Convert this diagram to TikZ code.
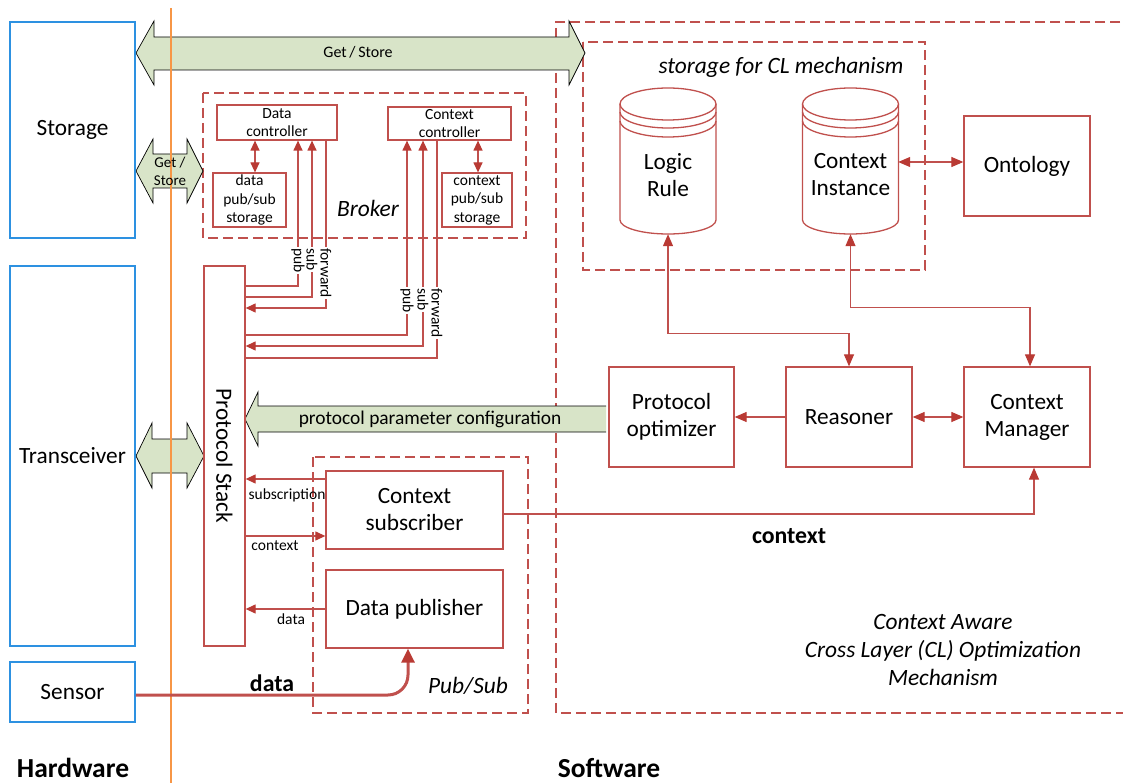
\documentclass[tikz,border=0pt]{standalone}
\usepackage{fontspec}
\setmainfont{Carlito}
\usetikzlibrary{arrows.meta}
\definecolor{boxred}{RGB}{192,80,77}
\definecolor{tipred}{RGB}{185,58,52}
\definecolor{hwblue}{RGB}{45,145,225}
\definecolor{orng}{RGB}{247,150,70}
\definecolor{pale}{RGB}{216,228,200}
\begin{document}
\begin{tikzpicture}[x=1pt,y=-1pt,
  f21/.style={font=\fontsize{23.3}{27}\selectfont},
  f19/.style={font=\fontsize{19.4}{23}\selectfont},
  f16/.style={font=\fontsize{16}{19}\selectfont},
  f15/.style={font=\fontsize{15.5}{18.5}\selectfont},
  rbox/.style={draw=boxred, line width=1.3pt, inner sep=0pt, align=center, f21},
  sbox/.style={draw=boxred, line width=1.2pt, inner sep=0pt, align=center, f15},
  hbox/.style={draw=hwblue, line width=1.5pt, inner sep=0pt, align=center, f21},
  grp/.style={draw=boxred, line width=1.2pt, dash pattern=on 10pt off 5pt},
  link/.style={draw=boxred, line width=1.2pt, >={Triangle[length=12pt,width=10pt,color=tipred]}},
  slink/.style={link, >={Triangle[length=10pt,width=9pt,color=tipred]}},
  fat/.style={fill=pale, draw=black, line width=0.7pt, line join=miter},
  lbl/.style={f15, inner sep=1pt, fill=white, rotate=-90, anchor=west},
  cyl/.style={draw=boxred, line width=1.3pt},
  itl/.style={font=\fontsize{23.4}{28}\selectfont\itshape},
  bld/.style={font=\fontsize{23.8}{28}\selectfont\bfseries}
]
\useasboundingbox (0,0) rectangle (1123,783);

% group boxes
\draw[grp] (1135,22) -- (556,22) -- (556,713) -- (1135,713);
\draw[grp] (583,42) rectangle (925,270);
\draw[grp] (203,93) rectangle (526,238);
\draw[grp] (313,457) rectangle (528,713);

% big green arrows
\draw[fat] (136,53) -- (154,21) -- (154,37) -- (569,37) -- (569,21) -- (585,53)
  -- (569,85) -- (569,70) -- (154,70) -- (154,85) -- cycle;
\draw[fat] (136,171) -- (153,139) -- (153,154) -- (187,154) -- (187,139) -- (203,171)
  -- (187,203) -- (187,188) -- (153,188) -- (153,203) -- cycle;
\draw[fat] (136,456) -- (152,423) -- (152,439) -- (187,439) -- (187,423) -- (204,456)
  -- (187,488) -- (187,473) -- (152,473) -- (152,488) -- cycle;
\fill[pale] (245,419) -- (258,392) -- (258,406) -- (606,406) -- (606,432) -- (258,432) -- (258,446) -- cycle;
\draw[black, line width=0.7pt, line join=miter] (606,406) -- (258,406) -- (258,392) -- (245,419)
  -- (258,446) -- (258,432) -- (606,432);

% orange divider
\draw[orng, line width=1.3pt] (171,8) -- (171,783);

% arrow texts
\node[f16] (gs1) at (358,52) {Get\,/\,Store};
\node[f15, font=\fontsize{15}{18}\selectfont, align=center] (gs2) at (170,171) {Get /\\Store};
\node[f19] (ppc) at (430,419) {protocol parameter configuration};

% hardware
\node[hbox, minimum width=125pt, minimum height=216pt] (storage) at (72.5,130) {Storage};
\node[hbox, minimum width=125pt, minimum height=380pt] (trans) at (72.5,456) {Transceiver};
\node[hbox, minimum width=125pt, minimum height=60pt] (sensor) at (72.5,692) {Sensor};

% protocol stack
\node[rbox, minimum width=41pt, minimum height=380pt] (pstack) at (224.5,456) {};
\node[f21, rotate=-90] (pstext) at (224.5,456) {Protocol Stack};

% broker
\node[sbox, minimum width=120pt, minimum height=35pt] (dctrl) at (277,122.5) {Data\\controller};
\node[sbox, minimum width=73pt, minimum height=54pt] (dstore) at (249.5,200) {data\\pub/sub\\storage};
\node[sbox, minimum width=123pt, minimum height=33pt] (cctrl) at (449.5,123.5) {Context\\controller};
\node[sbox, minimum width=70pt, minimum height=54pt] (cstore) at (477,200) {context\\pub/sub\\storage};
\node[itl] (brk) at (368,208) {Broker};
\draw[slink,<->] (dctrl.south -| 255,0) -- (dstore.north -| 255,0);
\draw[slink,<->] (cctrl.south -| 478,0) -- (cstore.north -| 478,0);

% pub/sub
\node[rbox, minimum width=177pt, minimum height=78pt] (csub) at (414.5,510) {Context\\subscriber};
\node[rbox, minimum width=177pt, minimum height=78pt] (dpub) at (414.5,609) {Data publisher};
\node[itl] (pslbl) at (468,686) {Pub/Sub};

% CL storage
\node[itl] (cltitle) at (781,67) {storage for CL mechanism};
\node[f21, align=center, inner sep=0pt, minimum width=96pt, minimum height=118pt] (lr) at (668,175) {Logic\\Rule};
\node[f21, align=center, inner sep=0pt, minimum width=95pt, minimum height=118pt] (ci) at (850.5,175) {Context\\Instance};
\foreach \cx in {668,850.5}{
  \draw[cyl] (\cx-48,104) -- (\cx-48,220) arc[start angle=180,end angle=360,x radius=48pt,y radius=14pt] -- (\cx+48,104);
  \draw[cyl] (\cx,104) ellipse[x radius=48pt,y radius=16pt];
  \draw[cyl] (\cx-48,112) arc[start angle=180,end angle=360,x radius=48pt,y radius=16pt];
  \draw[cyl] (\cx-48,121) arc[start angle=180,end angle=360,x radius=48pt,y radius=16pt];
}
\node[rbox, minimum width=126pt, minimum height=100pt] (onto) at (1027,166) {Ontology};

% processing
\node[rbox, minimum width=125pt, minimum height=100pt] (popt) at (671.5,417) {Protocol\\optimizer};
\node[rbox, minimum width=126pt, minimum height=100pt] (reas) at (849,417) {Reasoner};
\node[rbox, minimum width=126pt, minimum height=100pt] (cman) at (1027,417) {Context\\Manager};

% software connectors
\draw[link,<->] (ci.east |- 0,162) -- (onto.west |- 0,162);
\draw[link,<->] (lr.south) -- ++(0,99) -| (reas.north);
\draw[link,<->] (ci.south) -- ++(0,73) -| ([xshift=3pt]cman.north);
\draw[link,->] (reas.west) -- (popt.east);
\draw[link,<->] (reas.east) -- (cman.west);
\draw[link,->] (csub.east |- 0,514) -| ([xshift=7pt]cman.south);
\node[bld] (ctxlbl) at (789,536) {context};

% protocol stack <-> pub/sub
\draw[slink,->] (csub.west |- 0,479) -- (pstack.east |- 0,479);
\draw[slink,->] (pstack.east |- 0,536) -- (csub.west |- 0,536);
\draw[slink,->] (dpub.west) -- (pstack.east |- dpub.west);
\node[f15] (sublbl) at (287,495) {subscription};
\node[f15] (ctxs) at (275,546) {context};
\node[f15] (dats) at (291,619) {data};

% broker <-> protocol stack
\draw[slink,<-] (dctrl.south -| 298,0) |- (pstack.east |- 0,286);
\draw[slink,<-] (dctrl.south -| 312,0) |- (pstack.east |- 0,297);
\draw[slink,->] (dctrl.south -| 326,0) |- (pstack.east |- 0,308);
\draw[slink,<-] (cctrl.south -| 407,0) |- (pstack.east |- 0,335);
\draw[slink,<->] (cctrl.south -| 423,0) |- (pstack.east |- 0,346);
\draw[slink] (cctrl.south -| 437,0) |- (pstack.east |- 0,358);
\node[lbl] (l1) at (298,247) {pub};
\node[lbl] (l2) at (312,247) {sub};
\node[lbl] (l3) at (326,247) {forward};
\node[lbl] (l4) at (407,287) {pub};
\node[lbl] (l5) at (423,287) {sub};
\node[lbl] (l6) at (437,287) {forward};

% sensor data
\draw[boxred, line width=3pt, rounded corners=20pt, -{Triangle[length=14pt,width=13pt,color=tipred]}]
  (sensor.east |- 0,695) -| (dpub.south -| 408,0);
\node[bld] (datlbl) at (272,683) {data};

% CL mechanism label
\node[itl, align=center] (mech) at (943,650) {Context Aware\\Cross Layer (CL) Optimization\\Mechanism};

% bottom labels
\node[font=\fontsize{27.5}{30}\selectfont\bfseries, anchor=base] (hw) at (73,777) {Hardware};
\node[font=\fontsize{27.5}{30}\selectfont\bfseries, anchor=base] (sw) at (609,777) {Software};
\end{tikzpicture}
\end{document}
